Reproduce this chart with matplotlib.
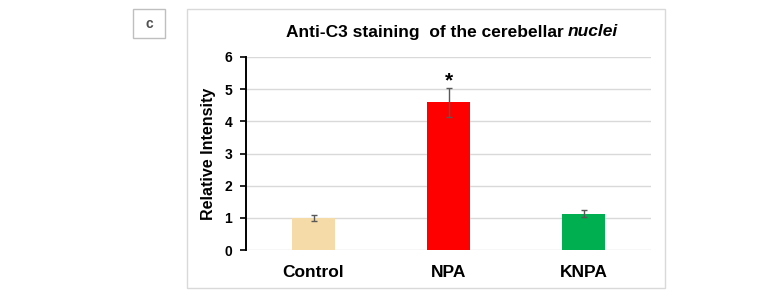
import numpy as np
import matplotlib.pyplot as plt
from matplotlib.patches import Rectangle

plt.rcParams['font.family'] = ['Liberation Sans', 'DejaVu Sans']

# Data
groups = ["Control", "NPA", "KNPA"]
means = [1.0, 4.6, 1.13]
errors = [0.1, 0.45, 0.11]
colors = ["#F5DBA8", "#FF0000", "#00B050"]
yticks = [0, 1, 2, 3, 4, 5, 6]

fig = plt.figure(figsize=(7.82, 2.98), dpi=100)
ax = fig.add_axes([246 / 782, 48 / 298, 405 / 782, 193 / 298])

x = np.arange(len(groups))
ax.bar(x, means, width=0.32, color=colors, zorder=3)
ax.errorbar(x, means, yerr=errors, fmt="none", ecolor="#595959",
            elinewidth=1, capsize=2.5, capthick=1, zorder=4)

# significance marker over NPA
ax.text(x[1], means[1] + errors[1] + 0.22, "*", ha="center", va="center",
        fontsize=15, fontweight="bold")

ax.set_xlim(-0.5, 2.5)
ax.set_ylim(0, 6)
ax.set_yticks(yticks)
ax.set_xticks(x)
ax.set_xticklabels(groups, fontsize=12.5, fontweight="bold")
ax.set_yticklabels([str(t) for t in yticks], fontsize=10, fontweight="bold")
ax.tick_params(axis="x", length=0, pad=11)
ax.tick_params(axis="y", direction="out", length=4, width=1.2, pad=6)
ax.set_ylabel("Relative Intensity", fontsize=11.5, fontweight="bold", labelpad=6)

ax.yaxis.grid(True, color="#D9D9D9", linewidth=1, zorder=0)
for s in ["top", "right", "bottom"]:
    ax.spines[s].set_visible(False)
ax.spines["left"].set_linewidth(1.4)
ax.spines["left"].set_color("black")

# title: bold part plus bold-italic last word, centred together
title_y = 1 - 32 / 298
t1 = fig.text(0, title_y, "Anti-C3 staining  of the cerebellar ", ha="left",
              va="center", fontsize=12.5, fontweight="bold")
t2 = fig.text(0, title_y, "nuclei", ha="left", va="center", fontsize=12.5,
              fontweight="bold", fontstyle="italic")
fig.canvas.draw()
r = fig.canvas.get_renderer()
w1 = t1.get_window_extent(r).width / 782
w2 = t2.get_window_extent(r).width / 782
x0 = 452 / 782 - (w1 + w2) / 2
t1.set_x(x0)
t2.set_x(x0 + w1)

# panel frame and label box
fig.patches.append(Rectangle((187 / 782, 10 / 298), 478 / 782, 279 / 298,
                             transform=fig.transFigure, fill=False,
                             edgecolor="#D9D9D9", linewidth=1))
fig.patches.append(Rectangle((133 / 782, 260 / 298), 32 / 782, 29 / 298,
                             transform=fig.transFigure, fill=False,
                             edgecolor="#BFBFBF", linewidth=1))
fig.text(149 / 782, 1 - 24 / 298, "c", ha="center", va="center",
         fontsize=10, fontweight="bold", color="#505050")

fig.savefig("out.png", dpi=100)
